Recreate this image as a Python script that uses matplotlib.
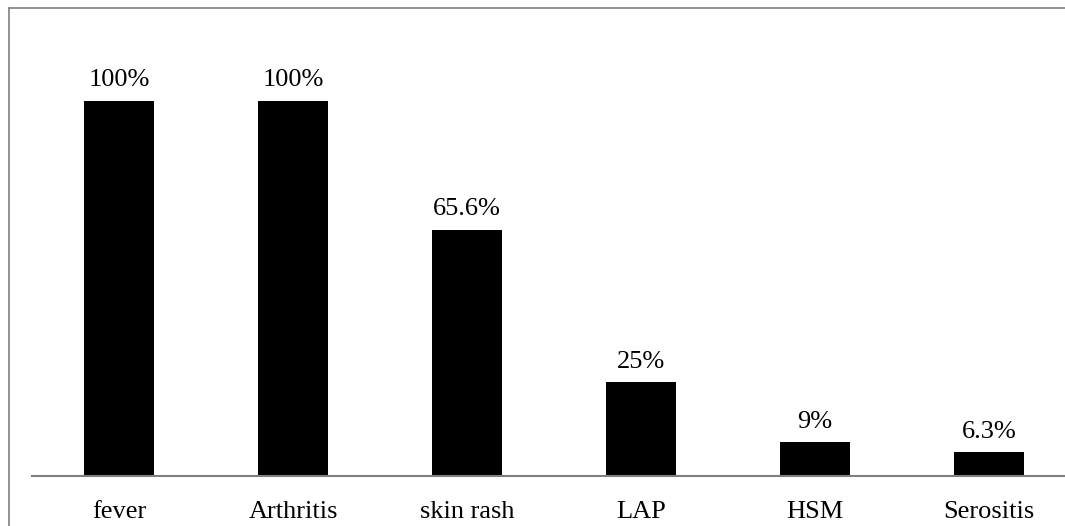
import matplotlib.pyplot as plt
from matplotlib.lines import Line2D

categories = ["fever", "Arthritis", "skin rash", "LAP", "HSM", "Serositis"]
values = [100, 100, 65.6, 25, 9, 6.3]
labels = ["100%", "100%", "65.6%", "25%", "9%", "6.3%"]

W, H = 1065, 526
fig = plt.figure(figsize=(W / 100, H / 100), dpi=100)
plt.rcParams['font.family'] = ['Liberation Serif', 'DejaVu Serif']

# axes: bottom line at y=476px, spans from x=32px, one category = 174px
left, bottom, top = 32, 476, 30
ax = fig.add_axes([left / W, (H - bottom) / H, (W - left) / W, (bottom - top) / H])
ax.bar(range(len(categories)), values, width=0.4, color="black")
ax.set_xlim(-0.5, -0.5 + (W - left) / 174)
ax.set_ylim(0, 100 * (bottom - top) / (bottom - 101))

for i, (v, t) in enumerate(zip(values, labels)):
    ax.annotate(t, (i, v), xytext=(0, 7), textcoords="offset points",
                ha="center", va="bottom", fontsize=19)

ax.set_xticks(range(len(categories)))
ax.set_xticklabels(categories, fontsize=19)
ax.tick_params(axis="x", length=0, pad=18)
ax.set_yticks([])
for s in ["top", "right", "left"]:
    ax.spines[s].set_visible(False)
ax.spines["bottom"].set_color("#808080")
ax.spines["bottom"].set_linewidth(1.5)

# outer frame (left and top edges only visible)
fig.add_artist(Line2D([9 / W, 9 / W], [0, 1 - 8 / H], color="#808080", lw=1.2))
fig.add_artist(Line2D([9 / W, 1], [1 - 8 / H, 1 - 8 / H], color="#808080", lw=1.2))

fig.savefig("out.png", dpi=100)
